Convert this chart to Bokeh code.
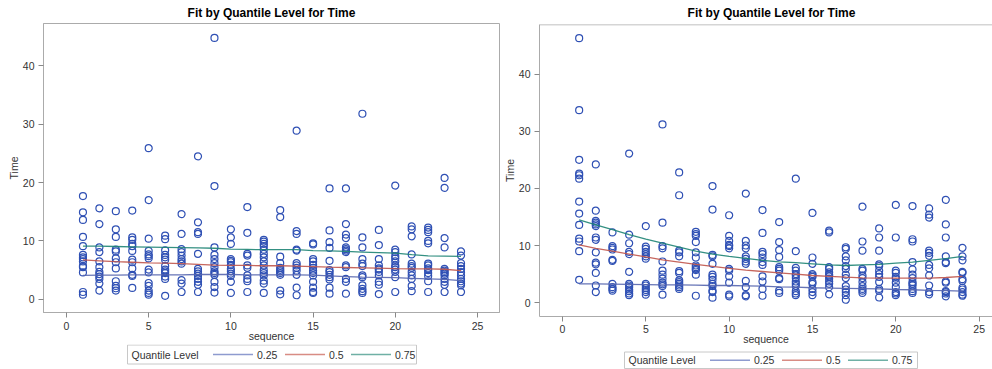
from bokeh.plotting import figure
from bokeh.layouts import row, column
from bokeh.models import Range1d, FixedTicker, Span, ColumnDataSource
from bokeh.core.properties import value
from bokeh.embed import file_html
from bokeh.resources import INLINE

# ---------------- data ----------------
seq = list(range(1, 25))

left_times = [
    [17.7, 14.9, 13.6, 10.7, 9.1, 7.6, 7.2, 6.9, 6.5, 5.7, 5.5, 4.6, 1.25, 0.8],
    [15.6, 12.9, 8.9, 8.1, 6.5, 5.5, 4.7, 4.3, 3.9, 3.5, 2.7, 1.5],
    [15.1, 12.0, 10.7, 8.5, 8.2, 7.0, 6.35, 5.3, 3.1, 2.3, 1.9, 1.5],
    [15.2, 10.6, 10.2, 9.5, 9.1, 8.3, 6.8, 6.35, 5.3, 4.2, 4.0, 1.95],
    [25.9, 17.0, 10.4, 8.3, 7.7, 7.4, 7.0, 5.1, 4.6, 2.8, 2.3, 1.5, 1.1, 0.8],
    [10.9, 10.3, 8.4, 7.6, 7.2, 6.8, 5.7, 5.1, 4.8, 4.5, 3.9, 3.5, 0.6],
    [14.6, 11.2, 8.6, 8.1, 7.5, 6.9, 6.5, 6.1, 3.3, 2.7, 1.25],
    [24.5, 13.2, 11.5, 11.2, 7.8, 5.2, 4.8, 4.4, 4.0, 3.5, 3.0, 2.5, 1.25],
    [44.8, 19.4, 8.9, 7.6, 6.9, 6.2, 5.5, 4.8, 4.5, 4.2, 3.0, 2.1, 1.15],
    [12.0, 10.6, 9.5, 6.9, 6.6, 6.35, 5.9, 5.2, 4.8, 4.4, 4.0, 3.0, 1.1],
    [15.8, 11.4, 7.8, 7.5, 5.8, 5.4, 4.1, 3.5, 3.1, 1.25],
    [10.2, 9.9, 9.5, 9.1, 8.5, 7.8, 7.2, 6.5, 5.8, 5.0, 4.5, 4.1, 3.2, 2.7, 1.1],
    [15.3, 14.1, 7.3, 6.2, 5.4, 5.05, 4.8, 4.5, 4.2, 1.5, 0.85],
    [28.9, 11.7, 11.2, 8.5, 8.35, 6.2, 5.8, 5.4, 4.9, 4.2, 2.0, 0.7],
    [9.6, 9.4, 6.9, 6.5, 5.9, 5.4, 4.9, 4.5, 4.1, 3.0, 2.0, 1.25, 1.1],
    [19.0, 11.8, 9.8, 8.8, 6.6, 5.0, 4.65, 4.2, 3.8, 3.4, 2.0, 0.96],
    [19.0, 12.9, 11.1, 10.5, 8.9, 8.6, 8.35, 8.1, 5.8, 5.5, 3.5, 3.0, 0.97],
    [31.8, 10.6, 8.9, 6.9, 6.1, 5.7, 4.1, 3.8, 2.4, 1.8, 1.4, 1.1],
    [11.9, 9.3, 6.9, 5.8, 5.3, 5.1, 4.7, 4.1, 3.0, 2.5, 0.9],
    [19.5, 8.5, 8.1, 7.4, 7.0, 6.5, 5.8, 5.5, 5.1, 4.7, 3.8, 1.25],
    [12.5, 12.0, 10.8, 7.7, 6.1, 5.7, 5.4, 4.7, 4.1, 3.5, 2.3, 1.4],
    [12.3, 11.9, 11.5, 10.0, 9.6, 6.1, 5.8, 5.3, 5.0, 4.5, 4.0, 3.1, 1.25],
    [20.8, 19.1, 10.5, 8.9, 5.2, 4.9, 4.65, 4.4, 4.1, 3.5, 3.0, 2.5, 1.25],
    [8.2, 7.5, 6.2, 5.7, 5.2, 4.65, 4.1, 3.5, 3.1, 2.7, 2.4, 1.25],
]
left_q25 = [4.1, 4.15, 4.15, 4.2, 4.2, 4.2, 4.2, 4.25, 4.25, 4.25, 4.2, 4.2,
            4.2, 4.2, 4.15, 4.0, 3.9, 3.8, 3.75, 3.7, 3.6, 3.5, 3.4, 3.2]
left_q50 = [6.75, 6.6, 6.45, 6.35, 6.25, 6.2, 6.1, 6.0, 5.85, 5.8, 5.8, 5.75,
            5.75, 5.7, 5.6, 5.5, 5.45, 5.4, 5.35, 5.25, 5.2, 5.2, 5.15, 4.9]
left_q75 = [9.1, 9.1, 9.05, 9.0, 8.95, 8.9, 8.85, 8.8, 8.75, 8.6, 8.55, 8.5,
            8.5, 8.5, 8.35, 8.3, 8.2, 8.1, 8.0, 7.9, 7.65, 7.45, 7.4, 7.35]

right_times = [
    [46.3, 33.7, 25.0, 22.6, 22.3, 21.7, 17.7, 15.6, 13.6, 11.2, 10.7, 9.0, 4.0],
    [24.2, 16.1, 14.3, 14.0, 13.7, 13.4, 11.4, 11.0, 8.8, 7.0, 6.7, 5.2, 3.0, 1.85],
    [12.3, 9.9, 9.6, 9.3, 7.5, 7.3, 3.3, 2.7, 2.4, 2.1],
    [26.1, 11.9, 10.4, 8.9, 8.5, 5.4, 3.3, 3.0, 2.7, 2.3, 2.0, 1.6, 1.3],
    [13.4, 9.8, 9.4, 8.9, 8.5, 8.1, 7.7, 3.3, 3.0, 2.55, 2.2, 1.85, 1.4],
    [31.2, 14.0, 9.9, 9.5, 7.2, 5.6, 4.9, 4.2, 3.5, 3.2, 2.9, 1.4],
    [22.8, 18.8, 9.1, 8.8, 8.1, 5.5, 5.2, 3.9, 3.6, 3.3, 3.0, 2.7, 2.4],
    [12.4, 12.0, 11.7, 10.6, 8.8, 7.9, 6.5, 6.2, 5.9, 5.7, 4.9, 1.2],
    [20.4, 16.3, 8.35, 8.1, 6.8, 4.9, 4.5, 4.0, 3.3, 2.9, 2.1, 1.85, 0.87],
    [15.3, 11.7, 10.8, 10.1, 9.9, 9.5, 5.9, 5.6, 4.6, 3.5, 1.4, 1.1],
    [19.1, 10.8, 10.0, 9.5, 8.1, 7.65, 7.2, 6.8, 3.8, 2.7, 1.3, 1.1],
    [16.2, 12.2, 8.9, 8.5, 7.9, 7.1, 6.6, 4.6, 3.7, 2.4, 1.2],
    [14.1, 10.6, 9.2, 8.0, 6.2, 5.9, 5.6, 4.3, 4.1, 2.1, 1.7],
    [21.7, 9.0, 6.1, 5.6, 5.0, 4.75, 4.3, 3.7, 3.3, 2.9, 2.0, 1.6, 1.3],
    [15.7, 7.9, 6.8, 5.0, 4.75, 4.5, 3.6, 3.3, 2.4, 1.85, 1.3],
    [12.6, 12.3, 6.2, 5.9, 5.3, 4.9, 4.6, 4.2, 3.7, 3.3, 2.7, 1.45],
    [9.7, 9.4, 8.1, 7.4, 6.4, 5.9, 4.9, 4.3, 2.9, 2.3, 1.85, 1.3, 0.5],
    [16.8, 10.7, 9.1, 5.9, 5.6, 4.75, 4.3, 3.6, 2.9, 2.4, 2.1, 1.7],
    [13.0, 11.4, 9.1, 6.7, 6.4, 5.6, 5.0, 4.5, 3.6, 2.4, 2.1, 0.9],
    [17.1, 11.4, 5.6, 5.2, 4.5, 4.2, 3.5, 2.7, 1.85, 1.6, 1.3],
    [16.9, 11.1, 10.7, 7.1, 5.8, 4.9, 4.3, 3.6, 3.3, 3.0, 2.4, 2.0, 1.7],
    [16.5, 15.4, 14.9, 9.1, 8.7, 8.2, 6.6, 6.0, 4.75, 3.0, 1.85, 1.45],
    [18.0, 13.7, 11.4, 8.1, 7.1, 6.9, 3.7, 3.5, 2.0, 1.85, 1.6, 1.1],
    [9.6, 8.1, 7.4, 5.4, 5.2, 4.1, 3.8, 2.6, 2.3, 1.85, 1.4, 1.2],
]
right_q25 = [3.3, 3.3, 3.25, 3.2, 3.15, 3.1, 3.1, 3.05, 3.0, 3.0, 2.95, 2.9,
             2.75, 2.7, 2.6, 2.55, 2.5, 2.45, 2.4, 2.3, 2.25, 2.15, 2.1, 2.0]
right_q50 = [10.1, 9.5, 9.0, 8.5, 8.0, 7.5, 7.1, 6.7, 6.35, 6.0, 5.7, 5.45,
             5.2, 5.0, 4.75, 4.6, 4.45, 4.35, 4.3, 4.3, 4.3, 4.3, 4.4, 4.6]
right_q75 = [14.5, 13.6, 12.8, 11.9, 11.1, 10.4, 9.7, 9.0, 8.5, 8.1, 7.75, 7.4,
             7.15, 7.0, 6.8, 6.6, 6.5, 6.6, 6.7, 6.9, 7.1, 7.4, 7.7, 8.1]

x_ticks = [0, 5, 10, 15, 20, 25]
y_ticks = [0, 10, 20, 30, 40]
quantile_labels = ["0.25", "0.5", "0.75"]
legend_title = "Quantile Level"
title_text = "Fit by Quantile Level for Time"

# ---------------- styling ----------------
FONT = "Liberation Sans"
SMALL = "10.5px"
MARKER = "#2F50B4"
LINE_COLORS = ["#5565AE", "#C0554B", "#1E8474"]
LEG_COLORS = ["#8E9BCF", "#D88C84", "#6FB0A5"]
FRAME = "#ABABAB"
TXT = "#333333"


def strip(width, height, frame_l, frame_r):
    # strip figures in a column share the main figure's frame edges, so the
    # x range is given in canvas pixels of that frame
    s = figure(width=width, height=height, output_backend="svg", toolbar_location=None,
               x_range=Range1d(frame_l, frame_r), y_range=Range1d(height, 0),
               x_axis_location=None, y_axis_location=None, title=None,
               min_border_left=frame_l, min_border_right=width - frame_r,
               min_border_top=0, min_border_bottom=0)
    s.grid.visible = False
    s.outline_line_color = None
    return s


def make_title(width, height, frame_l, frame_r, xc, yc):
    t = strip(width, height, frame_l, frame_r)
    t.text(x=[xc], y=[yc], text=[title_text], text_font=value(FONT), text_font_size="12px",
           text_font_style="bold", text_color="#000000", text_align="center", text_baseline="middle")
    return t


def make_main(times, q25, q50, q75, width, height, xr, yr, mb_left, mb_bottom, mb_right,
              open_right, lab_standoff):
    p = figure(width=width, height=height, output_backend="svg", toolbar_location=None,
               x_range=Range1d(*xr), y_range=Range1d(*yr), title=None,
               min_border_left=mb_left, min_border_right=mb_right,
               min_border_top=1, min_border_bottom=mb_bottom)
    p.xgrid.visible = False
    p.ygrid.visible = False

    xs, ys = [], []
    for s, vals in zip(seq, times):
        xs += [s] * len(vals)
        ys += vals
    src = ColumnDataSource(dict(x=xs, y=ys))
    p.scatter("x", "y", source=src, marker="circle", size=7, fill_color=None,
              line_color=MARKER, line_width=1.2)

    for q, c in zip([q25, q50, q75], LINE_COLORS):
        p.line(seq, q, line_color=c, line_width=1.3, line_alpha=0.9)

    for ax in (p.xaxis[0], p.yaxis[0]):
        ax.axis_line_color = FRAME
        ax.major_tick_line_color = "#888888"
        ax.major_tick_out = 5
        ax.major_tick_in = 0
        ax.minor_tick_line_color = None
        ax.major_label_text_font = FONT
        ax.major_label_text_font_size = SMALL
        ax.major_label_text_color = TXT
        ax.axis_label_text_font = FONT
        ax.axis_label_text_font_size = SMALL
        ax.axis_label_text_font_style = "normal"
        ax.axis_label_text_color = TXT
    p.xaxis[0].ticker = FixedTicker(ticks=x_ticks)
    p.yaxis[0].ticker = FixedTicker(ticks=y_ticks)
    p.xaxis[0].axis_label = "sequence"
    p.yaxis[0].axis_label = "Time"
    p.xaxis[0].major_label_standoff = lab_standoff
    p.xaxis[0].axis_label_standoff = -3
    p.yaxis[0].major_label_standoff = 4
    p.yaxis[0].axis_label_standoff = 0

    if open_right:
        p.outline_line_color = None
        p.add_layout(Span(location=yr[1], dimension="width", line_color=FRAME, line_width=1.5))
    else:
        p.outline_line_color = FRAME
    return p


# legend layout offsets from the box's left edge (pixels)
LEG_TITLE_DX = 4
LEG_LINE_DX = [85.5, 157.5, 223.5]
LEG_LINE_LEN = 40
LEG_LABEL_GAP = 4


def make_legend(width, height, frame_l, frame_r, box_l, box_r, box_top, box_bottom):
    lg = strip(width, height, frame_l, frame_r)
    lg.quad(left=[box_l], right=[box_r], top=[box_top], bottom=[box_bottom],
            fill_color=None, line_color="#C8C8C8", line_width=1)
    ym = (box_top + box_bottom) / 2.0
    lg.text(x=[box_l + LEG_TITLE_DX], y=[ym], text=[legend_title], text_font=value(FONT),
            text_font_size=SMALL, text_color=TXT, text_baseline="middle", text_align="left")
    for dx, lab, c in zip(LEG_LINE_DX, quantile_labels, LEG_COLORS):
        x0 = box_l + dx
        lg.segment(x0=[x0], y0=[ym], x1=[x0 + LEG_LINE_LEN], y1=[ym], line_color=c, line_width=1.5)
        lg.text(x=[x0 + LEG_LINE_LEN + LEG_LABEL_GAP], y=[ym], text=[lab], text_font=value(FONT),
                text_font_size=SMALL, text_color=TXT, text_baseline="middle", text_align="left")
    return lg


t1 = make_title(500, 22, 43, 499, 271, 12)
m1 = make_main(left_times, left_q25, left_q50, left_q75, 500, 322,
               (-1.4, 26.34), (-2.26, 47.27), 43, 30, 1, False, 4)
l1 = make_legend(500, 25, 43, 499, 127, 416, 0.5, 19.5)

t2 = make_title(492, 23, 39, 492, 271, 12)
m2 = make_main(right_times, right_q25, right_q50, right_q75, 492, 324,
               (-1.38, 25.8), (-2.43, 48.7), 39, 29, 0, True, 3)
l2 = make_legend(492, 22, 39, 492, 124, 417, 4.5, 21)

layout = row(column(t1, m1, l1, spacing=0), column(t2, m2, l2, spacing=0), spacing=0)
open("out.html", "w").write(file_html(layout, INLINE))
